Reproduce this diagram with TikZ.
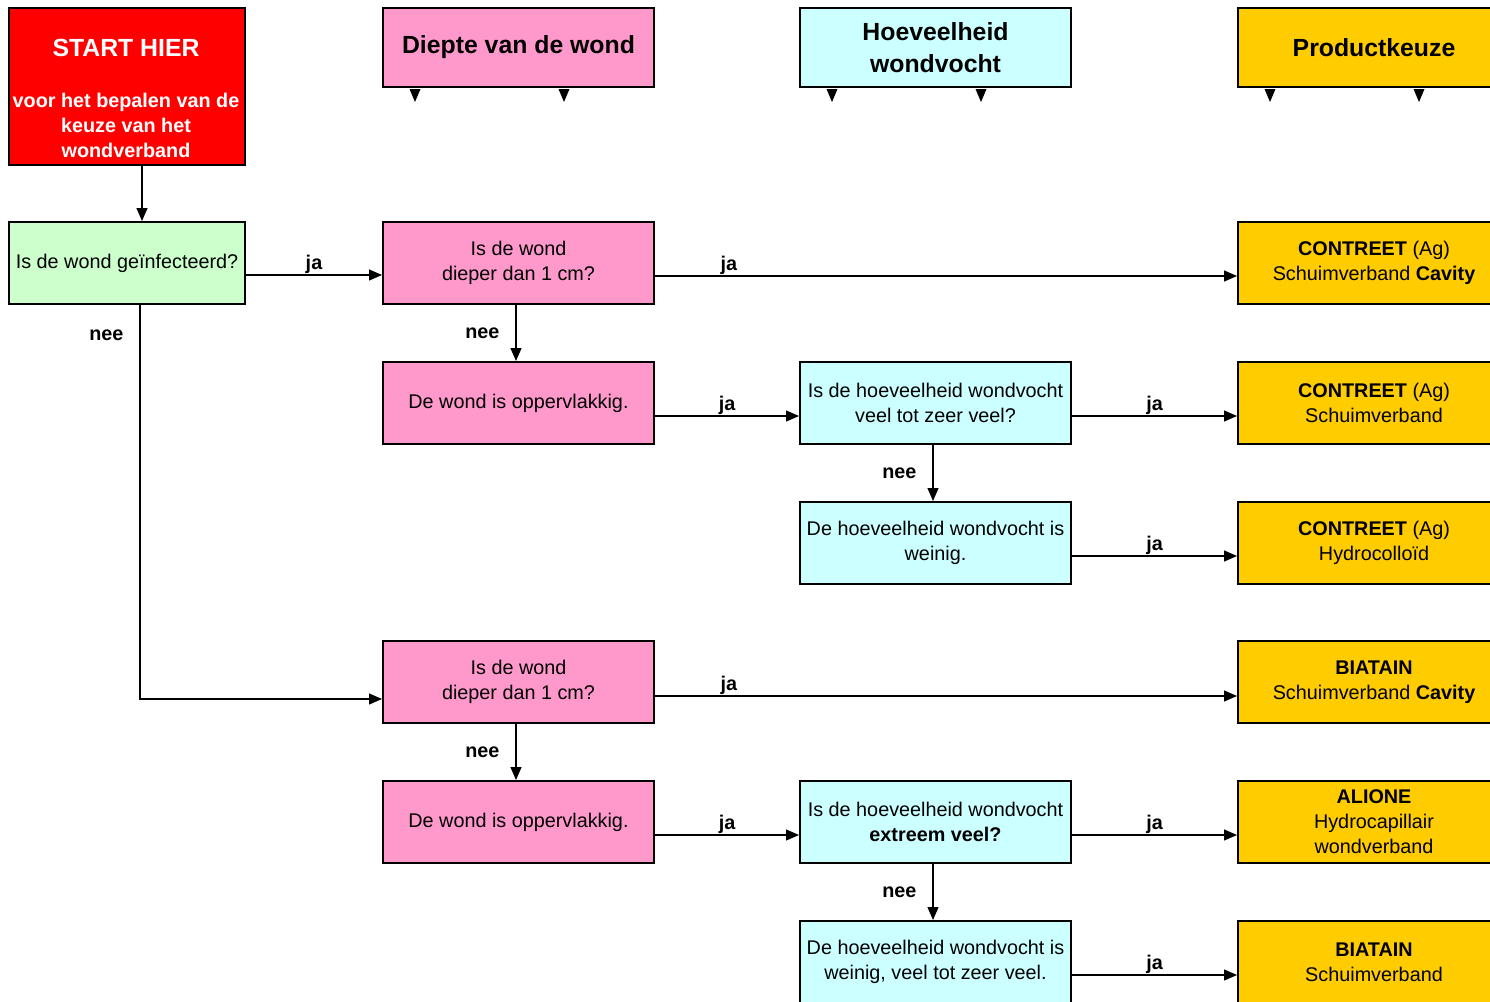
\documentclass[tikz,border=0pt]{standalone}
\usepackage{fontspec}
\setmainfont{Liberation Sans}
\usetikzlibrary{arrows.meta,calc}
\definecolor{cred}{HTML}{FF0000}
\definecolor{cpink}{HTML}{FF99CC}
\definecolor{ccyan}{HTML}{CCFFFF}
\definecolor{cyel}{HTML}{FFCC00}
\definecolor{cgreen}{HTML}{CCFFCC}
\newcommand{\bodyfont}{\fontsize{19.8}{25}\selectfont}
\newcommand{\headfont}{\fontsize{24.8}{32}\selectfont\bfseries}
\begin{document}
\begin{tikzpicture}[x=1pt,y=-1pt,
 box/.style={draw, line width=2pt, minimum width=271pt, minimum height=82pt, inner sep=0pt, align=center, font=\bodyfont, anchor=north west},
 head/.style={box, minimum height=79pt, font=\headfont},
 conn/.style={line width=1.2pt, -{Triangle[length=13pt,width=11pt]}},
 lab/.style={font=\bodyfont\bfseries, inner sep=0pt},
 tri/.style={fill=black}]
\clip (0,0) rectangle (1490,1001);
\fill[white] (0,0) rectangle (1490,1001);

% headers
\node[box, fill=cred, minimum width=236pt, minimum height=157pt] (start) at (8,7) {};
\node[text=white, font=\fontsize{24.8}{30}\selectfont\bfseries, anchor=base, inner sep=0pt] (starttitle) at (126,56) {START HIER};
\node[text=white, font=\bodyfont\bfseries, anchor=north, inner sep=0pt, align=center] (startsub) at (126,92.5) {voor het bepalen van de\\keuze van het\\wondverband};

\node[head, fill=cpink] (hdiep) at (382,7) {Diepte van de wond};
\node[head, fill=ccyan] (hvocht) at (799,7) {Hoeveelheid\\wondvocht};
\node[head, fill=cyel, minimum width=272pt] (hprod) at (1237,7) {Productkeuze};
\foreach \h in {hdiep,hvocht,hprod}{
  \foreach \dx in {33,182}{
    \fill[tri] ($(\h.south west)+(\dx-5.5,1)$) -- ++(11,0) -- ++(-5.5,13) -- cycle;
  }
}

% column 1
\node[box, fill=cgreen, minimum width=236pt] (green) at (8,221) {Is de wond geïnfecteerd?};

% column 2
\node[box, fill=cpink] (p1) at (382,221) {Is de wond\\dieper dan 1 cm?};
\node[box, fill=cpink] (p2) at (382,361) {De wond is oppervlakkig.};
\node[box, fill=cpink] (p3) at (382,640) {Is de wond\\dieper dan 1 cm?};
\node[box, fill=cpink] (p4) at (382,780) {De wond is oppervlakkig.};

% column 3
\node[box, fill=ccyan] (c1) at (799,361) {Is de hoeveelheid wondvocht\\veel tot zeer veel?};
\node[box, fill=ccyan] (c2) at (799,501) {De hoeveelheid wondvocht is\\weinig.};
\node[box, fill=ccyan] (c3) at (799,780) {Is de hoeveelheid wondvocht\\\textbf{extreem veel?}};
\node[box, fill=ccyan] (c4) at (799,920) {De hoeveelheid wondvocht is\\weinig, veel tot zeer veel.};

% column 4
\tikzset{prod/.style={box, fill=cyel, minimum width=272pt}}
\node[prod] (y1) at (1237,221) {\textbf{CONTREET} (Ag)\\Schuimverband \textbf{Cavity}};
\node[prod] (y2) at (1237,361) {\textbf{CONTREET} (Ag)\\Schuimverband};
\node[prod] (y3) at (1237,501) {\textbf{CONTREET} (Ag)\\Hydrocolloïd};
\node[prod] (y4) at (1237,640) {\textbf{BIATAIN}\\Schuimverband \textbf{Cavity}};
\node[prod] (y5) at (1237,780) {\textbf{ALIONE}\\Hydrocapillair\\wondverband};
\node[prod] (y6) at (1237,920) {\textbf{BIATAIN}\\Schuimverband};

% connectors
\draw[conn] ([xshift=15pt]start.south) -- ([xshift=15pt]green.north);
\draw[conn] ([yshift=-12pt]green.east) -- node[lab, above=1pt]{ja} ([yshift=-12pt]p1.west);
\coordinate (p3in) at ([yshift=-17pt]p3.west);
\draw[conn] ([xshift=13pt]green.south) |- node[lab, pos=0.038, left=16pt]{nee} (p3in);

\draw[conn] ([yshift=-13pt]p1.east) -- node[lab, above=1pt, pos=0.127]{ja} ([yshift=-13pt]y1.west);
\draw[conn] ([xshift=-2.5pt]p1.south) -- node[lab, left=16pt]{nee} ([xshift=-2.5pt]p2.north);
\draw[conn] ([yshift=-13pt]p2.east) -- node[lab, above=1pt]{ja} ([yshift=-13pt]c1.west);
\draw[conn] ([yshift=-13pt]c1.east) -- node[lab, above=1pt]{ja} ([yshift=-13pt]y2.west);
\draw[conn] ([xshift=-2.5pt]c1.south) -- node[lab, left=16pt]{nee} ([xshift=-2.5pt]c2.north);
\draw[conn] ([yshift=-13pt]c2.east) -- node[lab, above=1pt]{ja} ([yshift=-13pt]y3.west);

\draw[conn] ([yshift=-14pt]p3.east) -- node[lab, above=1pt, pos=0.127]{ja} ([yshift=-14pt]y4.west);
\draw[conn] ([xshift=-2.5pt]p3.south) -- node[lab, left=16pt]{nee} ([xshift=-2.5pt]p4.north);
\draw[conn] ([yshift=-13pt]p4.east) -- node[lab, above=1pt]{ja} ([yshift=-13pt]c3.west);
\draw[conn] ([yshift=-13pt]c3.east) -- node[lab, above=1pt]{ja} ([yshift=-13pt]y5.west);
\draw[conn] ([xshift=-2.5pt]c3.south) -- node[lab, left=16pt]{nee} ([xshift=-2.5pt]c4.north);
\draw[conn] ([yshift=-13pt]c4.east) -- node[lab, above=1pt]{ja} ([yshift=-13pt]y6.west);
\end{tikzpicture}
\end{document}
